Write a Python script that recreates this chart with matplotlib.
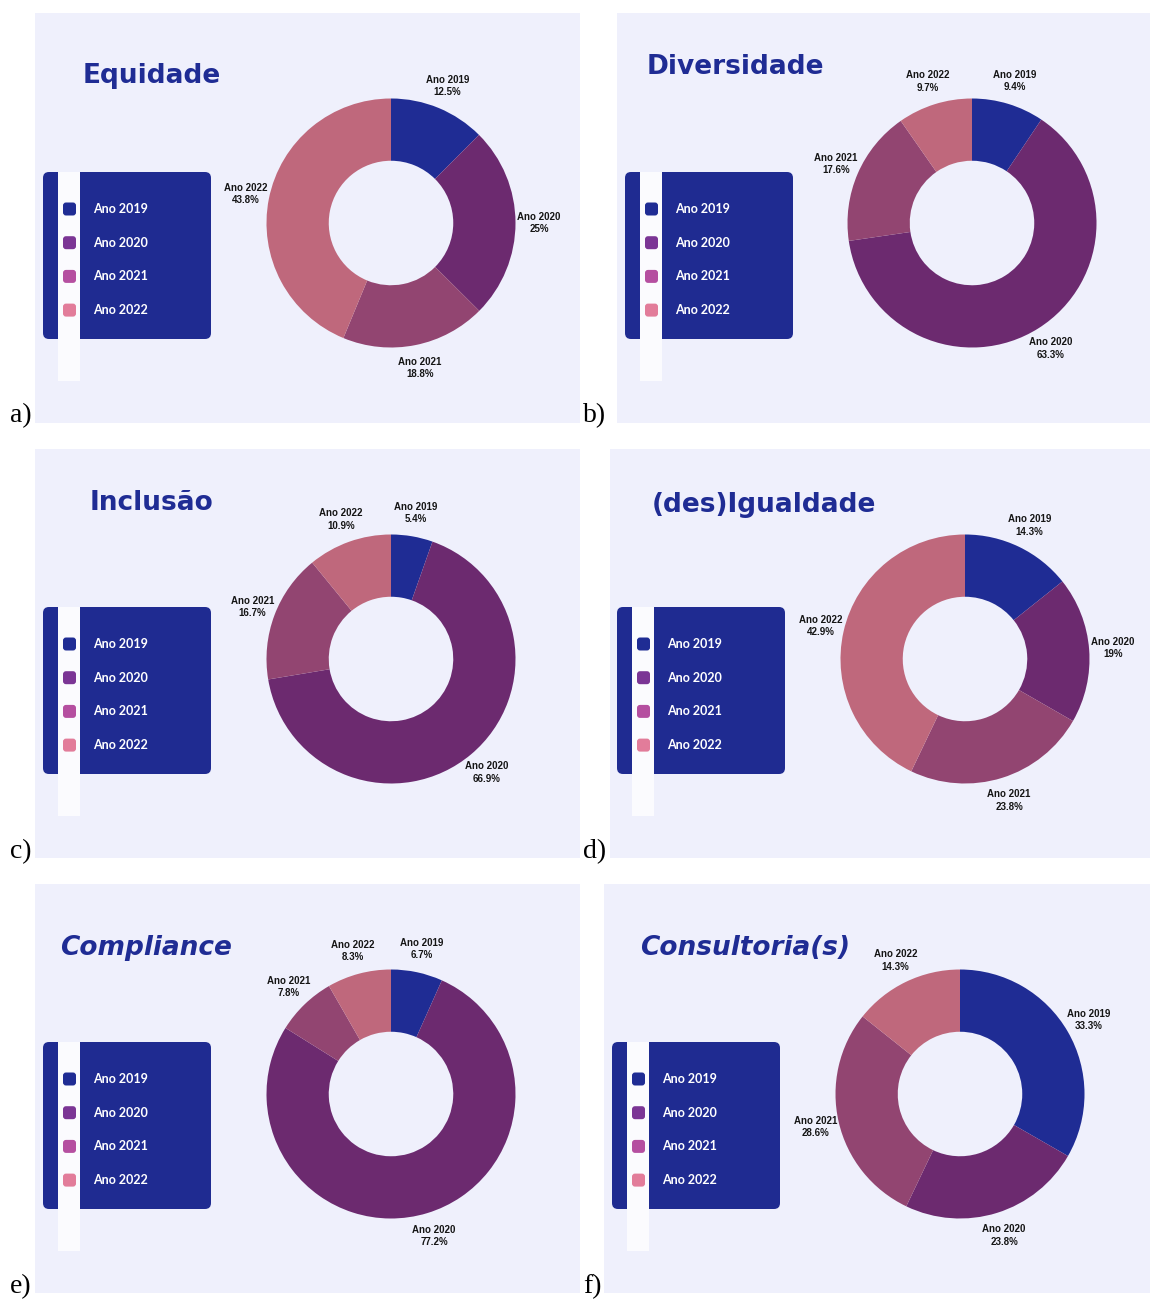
import matplotlib
matplotlib.use("Agg")
import matplotlib.pyplot as plt
from matplotlib.patches import FancyBboxPatch, Rectangle

W, H = 1150, 1300

# survey answers per topic, share of each year (%)
YEARS = ["2019", "2020", "2021", "2022"]
TITLES = ["Equidade", "Diversidade", "Inclusão", "(des)Igualdade", "Compliance", "Consultoria(s)"]
TAGS = ["a)", "b)", "c)", "d)", "e)", "f)"]
EQUIDADE = [12.5, 25, 18.8, 43.8]
DIVERSIDADE = [9.4, 63.3, 17.6, 9.7]
INCLUSAO = [5.4, 66.9, 16.7, 10.9]
DESIGUALDADE = [14.3, 19, 23.8, 42.9]
COMPLIANCE = [6.7, 77.2, 7.8, 8.3]
CONSULTORIA = [33.3, 23.8, 28.6, 14.3]
SERIES = [EQUIDADE, DIVERSIDADE, INCLUSAO, DESIGUALDADE, COMPLIANCE, CONSULTORIA]

BG = "#EFF0FC"
NAVY = "#1F2C94"
BOX = "#1F2B91"
PIE_COLORS = ["#1F2C94", "#6C2A6F", "#924571", "#BF687C"]
KEY_COLORS = ["#1F2C94", "#7B3595", "#B54FA0", "#E27C9A"]

# layout in pixels (x0, y0, x1, y1), measured from the top-left corner
PANELS = [(35, 13, 580, 423), (617, 13, 1150, 423),
          (35, 449, 580, 858), (610, 449, 1150, 858),
          (35, 884, 580, 1293), (604, 884, 1150, 1293)]
TITLE_POS = [(83, 76), (647, 67), (90, 503), (652, 505), (60, 948), (640, 948)]
KEY_POS = [(43, 172), (625, 172), (43, 607), (617, 607), (43, 1042), (612, 1042)]
CENTERS = [(391, 223), (972, 223), (391, 659), (965, 659), (391, 1094), (960, 1094)]
TAG_POS = [(10, 422), (583, 422), (10, 858), (583, 858), (10, 1293), (583, 1293)]
R = 124.5


def main():
  fig = plt.figure(figsize=(W / 100, H / 100), dpi=100)
  fig.patch.set_facecolor("white")

  # one axes in pixel units for the panel furniture
  base = fig.add_axes([0, 0, 1, 1])
  base.set_xlim(0, W)
  base.set_ylim(H, 0)
  base.axis("off")

  for i in range(6):
    x0, y0, x1, y1 = PANELS[i]
    base.add_patch(Rectangle((x0, y0), x1 - x0, y1 - y0, color=BG, lw=0))

    tx, ty = TITLE_POS[i]
    base.text(tx, ty, TITLES[i], ha="left", va="center", fontsize=19,
              family="DejaVu Sans", fontweight="bold", color=NAVY,
              style="italic" if i >= 4 else "normal")

    # legend card with its white strip
    bx, by = KEY_POS[i]
    base.add_patch(FancyBboxPatch((bx, by), 168, 167, boxstyle="round,pad=0,rounding_size=6",
                                  fc=BOX, ec="none"))
    base.add_patch(Rectangle((bx + 15, by), 22, 209, color="#FBFBFE", lw=0))
    for k, year in enumerate(YEARS):
      yy = by + 37 + k * 33.7
      base.add_patch(FancyBboxPatch((bx + 20, yy - 6.5), 13, 13, boxstyle="round,pad=0,rounding_size=3",
                                    fc=KEY_COLORS[k], ec="none"))
      base.text(bx + 50, yy, "Ano " + year, ha="left", va="center", fontsize=9,
                family="Lato", fontweight="bold", color="white")

    base.text(TAG_POS[i][0], TAG_POS[i][1], TAGS[i], ha="left", va="baseline",
              fontsize=20, family="Liberation Serif", color="black")

    # donut
    cx, cy = CENTERS[i]
    S = 2.5 * R
    ax = fig.add_axes([(cx - S / 2) / W, 1 - (cy + S / 2) / H, S / W, S / H])
    vals = SERIES[i]
    labels = ["Ano %s\n%s%%" % (y, format(v, "g")) for y, v in zip(YEARS, vals)]
    wedges, texts = ax.pie(vals, colors=PIE_COLORS, startangle=90, counterclock=False,
                           labels=labels, labeldistance=1.19,
                           wedgeprops=dict(width=0.5, edgecolor="none"),
                           textprops=dict(fontsize=7, fontweight="bold",
                                          family="Liberation Sans", color="#151515",
                                          linespacing=1.3))
    for t in texts:
      t.set_ha("center")
      t.set_multialignment("center")

  fig.savefig("out.png", dpi=100, facecolor="white")


if __name__ == "__main__":
  main()
